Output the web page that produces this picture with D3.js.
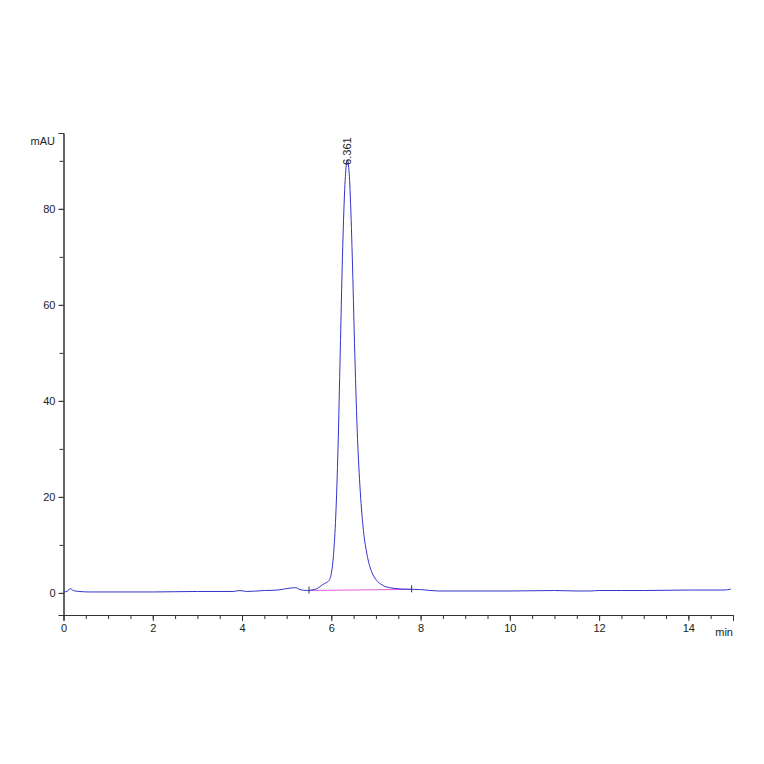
<!DOCTYPE html><html><head><script src="https://cdn.jsdelivr.net/npm/d3@7"></script>
<style>body{margin:0;background:#fff}text{font-family:Arial,"Liberation Sans",sans-serif;font-size:11px;fill:#222}</style></head><body><svg id="c" width="764" height="764"></svg><script>
const times=[0,0.08,0.15,0.22,0.35,0.6,1,2,3,3.8,3.95,4.1,4.5,4.8,5.0,5.2,5.3,5.45,5.55,5.7,5.8,5.88,5.95,6.0,6.05,6.1,6.15,6.2,6.25,6.3,6.34,6.361,6.38,6.42,6.47,6.52,6.58,6.65,6.72,6.8,6.9,7.0,7.15,7.3,7.6,8.0,8.4,9,10,11,11.5,11.8,12,12.5,13,14,14.8,14.95];
const values=[0.2,0.3,0.9,0.5,0.3,0.2,0.2,0.2,0.3,0.3,0.5,0.3,0.5,0.6,0.9,1.1,0.7,0.5,0.6,1.0,1.7,2.1,2.6,4,8,16,30,50,70,84,89.5,90.2,89.5,84,70,52,34,21,13,8,4.5,2.8,1.6,1.1,0.8,0.7,0.4,0.4,0.4,0.5,0.4,0.4,0.5,0.5,0.5,0.6,0.6,0.8];
const xTicks=[0,2,4,6,8,10,12,14];
const yTicks=[0,20,40,60,80];
const baseT=[5.5,7.8],baseV=[0.5,0.75];
const peakLabel="6.361",peakT=6.361;
const svg=d3.select("#c");
const x=d3.scaleLinear().domain([0,15]).range([63.5,733]);
const y=d3.scaleLinear().domain([-4.6,95.8]).range([615,133]);
const ax=svg.append("g").attr("transform","translate(0,615)").call(d3.axisBottom(x).tickValues(xTicks).tickFormat(d3.format("d")).tickSizeOuter(0).tickSize(6));
ax.append("g").call(d3.axisBottom(x).tickValues(d3.range(0,15.01,0.5)).tickFormat("").tickSize(4).tickSizeOuter(0));
const ay=svg.append("g").attr("transform","translate(63.5,0)").call(d3.axisLeft(y).tickValues(yTicks).tickSizeOuter(0).tickSize(5));
ay.append("g").call(d3.axisLeft(y).tickValues(d3.range(-0,95,10)).tickFormat("").tickSize(4).tickSizeOuter(0));
svg.selectAll(".domain,.tick line").attr("stroke","#333");
svg.selectAll(".tick text").style("font-size","11px");
svg.append("text").attr("x",55).attr("y",145).attr("text-anchor","end").text("mAU");
svg.append("text").attr("x",733).attr("y",636).attr("text-anchor","end").text("min");
svg.append("path").datum(baseT.map((t,i)=>[t,baseV[i]])).attr("d",d3.line().x(d=>x(d[0])).y(d=>y(d[1]))).attr("stroke","#e060e0").attr("fill","none").attr("stroke-width",1);
baseT.forEach((t,i)=>svg.append("line").attr("x1",x(t)).attr("x2",x(t)).attr("y1",y(baseV[i])-4).attr("y2",y(baseV[i])+3).attr("stroke","#333"));
svg.append("path").datum(times.map((t,i)=>[t,values[i]])).attr("d",d3.line().x(d=>x(d[0])).y(d=>y(d[1])).curve(d3.curveMonotoneX)).attr("stroke","#3333cc").attr("fill","none").attr("stroke-width",1);
svg.append("text").attr("transform",`translate(${x(peakT)+4},${y(90.2)+5}) rotate(-90)`).attr("text-anchor","start").text(peakLabel);
</script></body></html>
